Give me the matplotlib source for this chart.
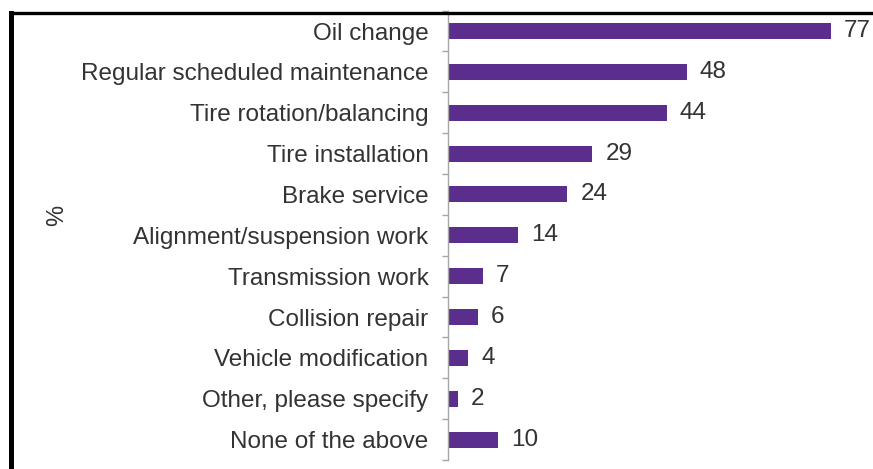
import matplotlib
matplotlib.use("Agg")
import matplotlib.pyplot as plt
from matplotlib.lines import Line2D
import numpy as np

# service categories and share of respondents (%)
services = [
    "Oil change",
    "Regular scheduled maintenance",
    "Tire rotation/balancing",
    "Tire installation",
    "Brake service",
    "Alignment/suspension work",
    "Transmission work",
    "Collision repair",
    "Vehicle modification",
    "Other, please specify",
    "None of the above",
]
percent = [77, 48, 44, 29, 24, 14, 7, 6, 4, 2, 10]

bar_color = "#5b2d8c"
text_color = "#333333"
axis_gray = "#a6a6a6"

plt.rcParams["font.family"] = ["Liberation Sans", "DejaVu Sans"]

W, H = 873, 469
fig = plt.figure(figsize=(W / 100, H / 100), dpi=100)
ax = fig.add_axes([448 / W, (H - 460) / H, (W - 448) / W, (460 - 10.6) / H])

y = np.arange(len(services))
ax.barh(y, percent, height=0.39, color=bar_color, zorder=2)
for yi, v in zip(y, percent):
    ax.annotate(str(v), (v, yi), xytext=(9.5, 0), textcoords="offset points",
                va="center", ha="left", fontsize=17.5, color=text_color)

ax.set_xlim(0, (W - 448) / 4.97)
ax.set_ylim(len(services) - 0.5, -0.5)

ax.set_yticks(y)
ax.set_yticklabels(services, fontsize=17.5, color=text_color)
ax.tick_params(axis="y", which="major", length=0, pad=14)
ax.set_yticks(np.arange(len(services) + 1) - 0.5, minor=True)
ax.tick_params(axis="y", which="minor", length=4, width=1, color=axis_gray)
ax.set_xticks([])

for side in ["top", "right", "bottom"]:
    ax.spines[side].set_visible(False)
ax.spines["left"].set_color(axis_gray)
ax.spines["left"].set_linewidth(1)

fig.text(57 / W, 1 - 215 / H, "%", rotation=90, fontsize=17,
         color=text_color, ha="center", va="center")

# black frame along the top and left edge
fig.add_artist(Line2D([10.5 / W, 10.5 / W], [0, 1 - 13.5 / H], color="black",
                      linewidth=3.6, transform=fig.transFigure, solid_capstyle="projecting"))
fig.add_artist(Line2D([10.5 / W, 1], [1 - 13.5 / H, 1 - 13.5 / H], color="black",
                      linewidth=2.4, transform=fig.transFigure, solid_capstyle="projecting"))

fig.savefig("out.png", dpi=100)
